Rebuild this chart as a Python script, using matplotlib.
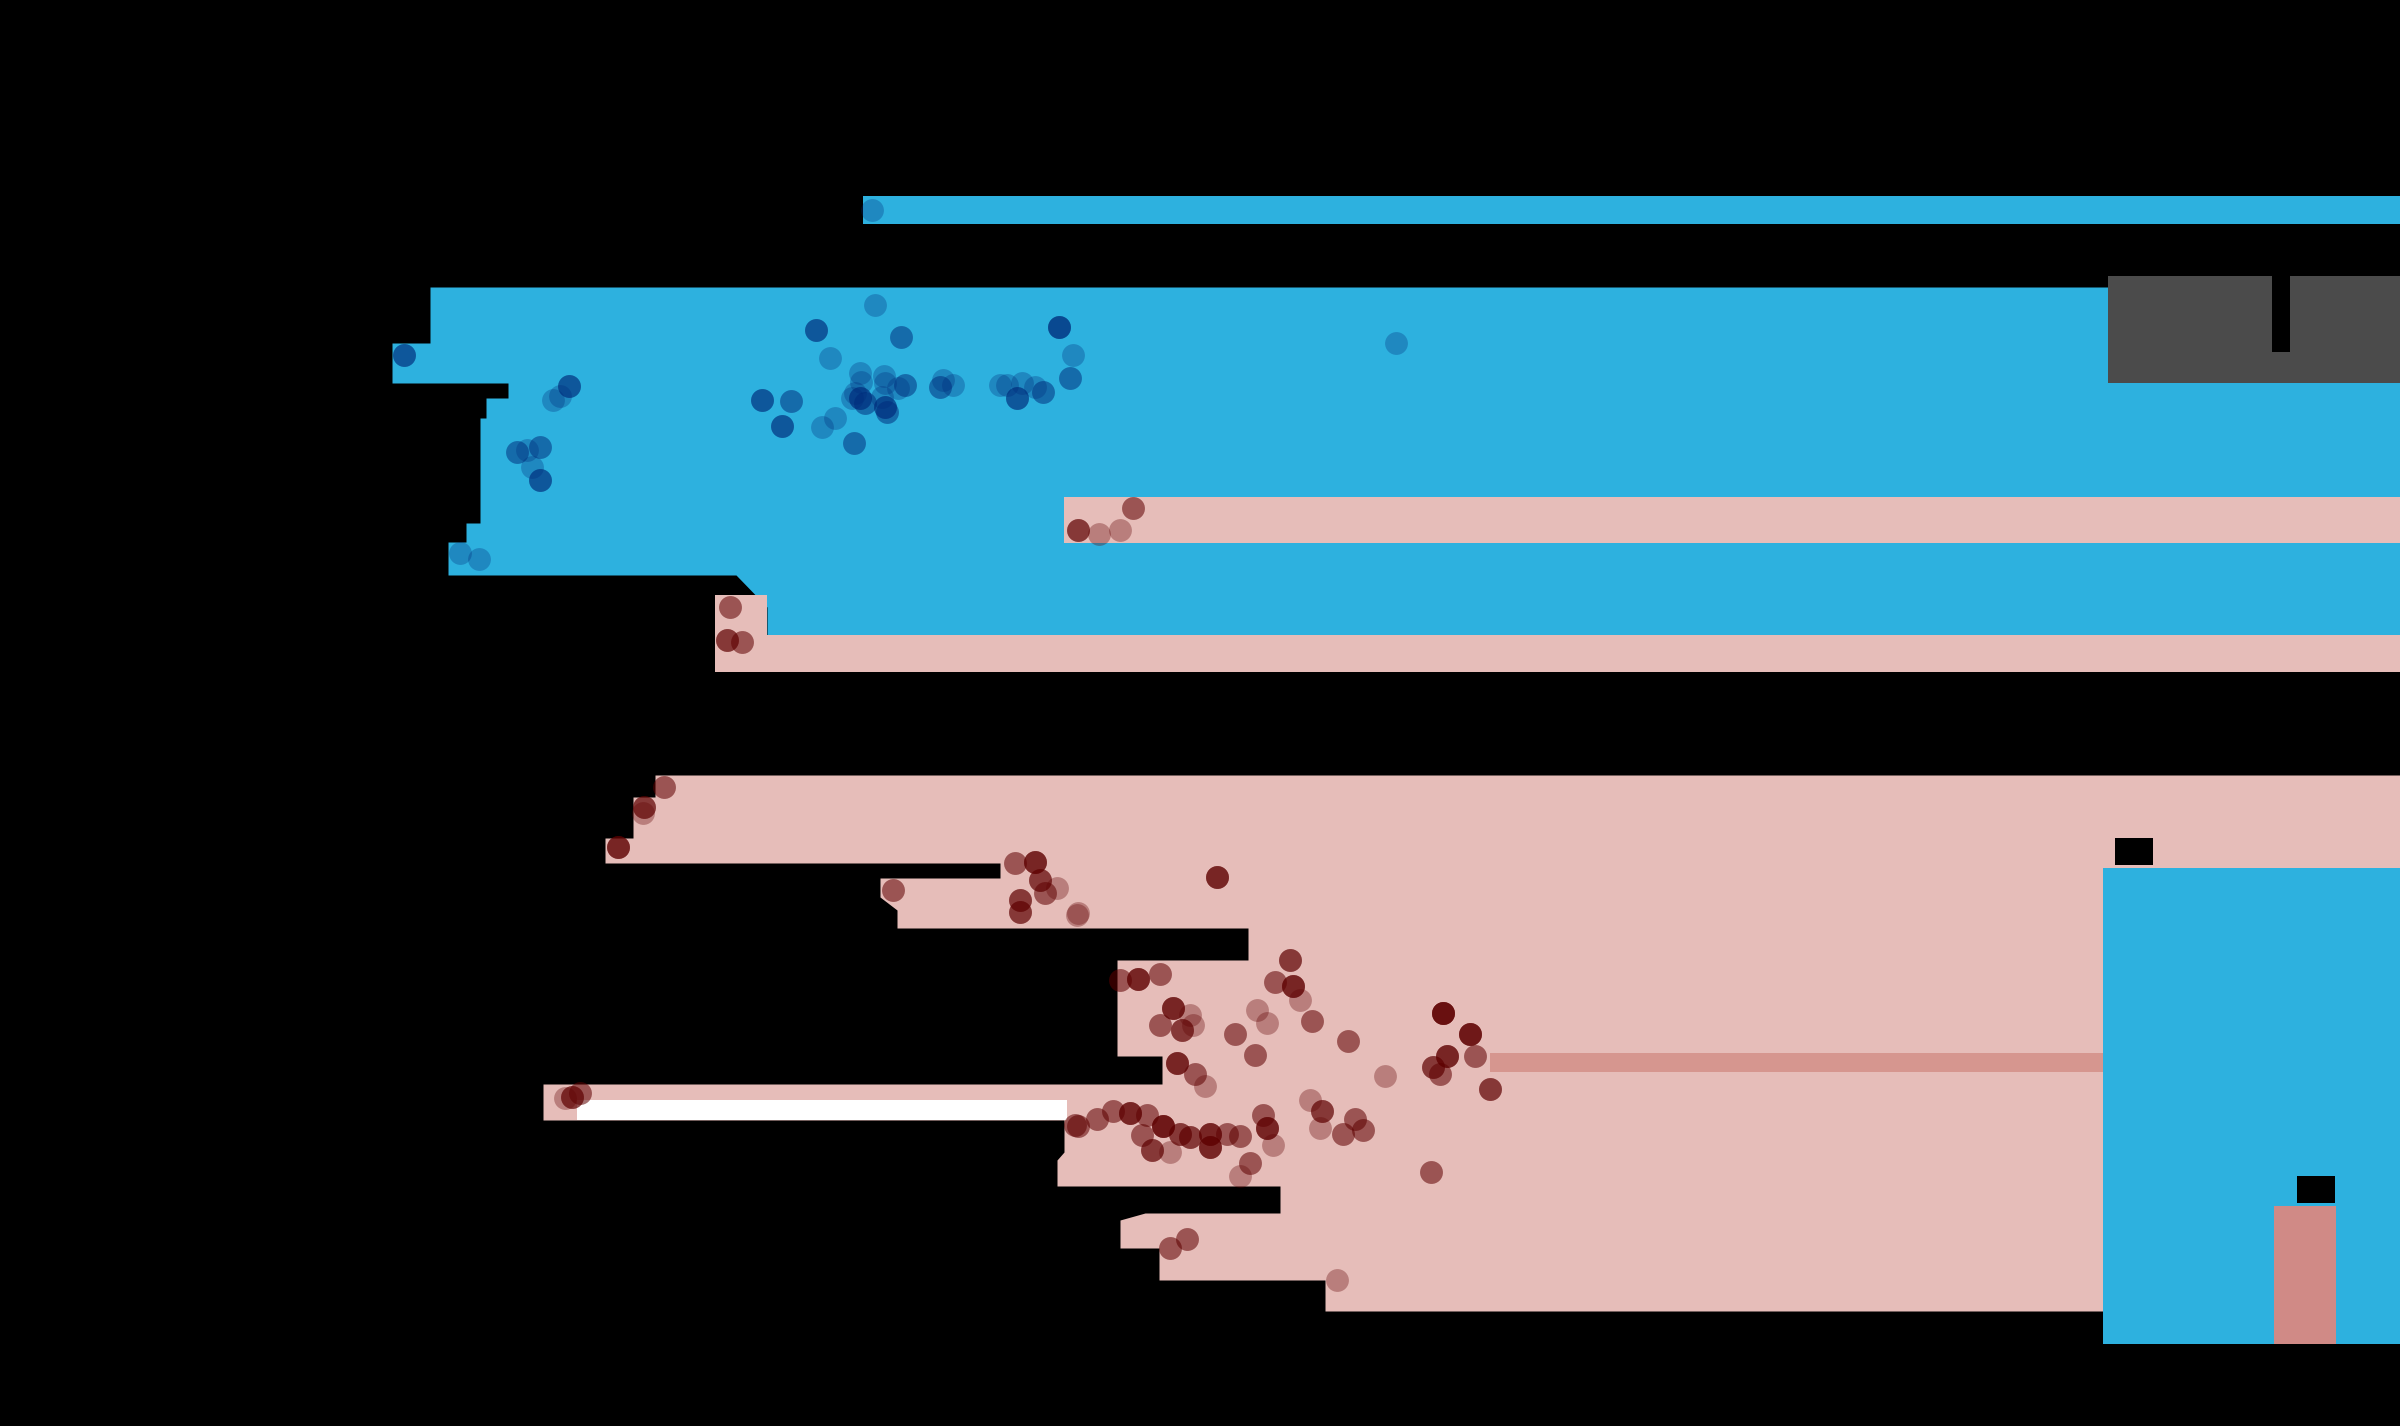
import numpy as np
import matplotlib
matplotlib.use("Agg")
import matplotlib.pyplot as plt

# map frame is 2400 x 1426 units, y grows downward
W, H = 2400, 1426

# region outlines: left edge (x) at each y, every region runs to the right border
blue_main_y = [287, 343, 343, 383, 383, 398, 398, 418, 418, 523, 523, 542, 542, 575, 575, 607, 635]
blue_main_x = [430, 430, 392, 392, 508, 508, 486, 486, 480, 480, 466, 466, 448, 448, 736, 767, 767]
blue_top_y = [196, 224]
blue_top_x = [863, 863]
pink_mid_y = [497, 543]
pink_mid_x = [1064, 1064]
pink_gap_y = [595, 635]
pink_gap_x = [715, 715]
pink_low_y = [635, 672]
pink_low_x = [715, 715]
pink_south_y = [775, 797, 797, 838, 838, 863, 863, 878, 878, 897, 910, 928, 928, 960, 960, 1056,
                1056, 1084, 1084, 1120, 1120, 1152, 1160, 1186, 1186, 1213, 1213, 1220, 1248, 1248,
                1280, 1280, 1311]
pink_south_x = [655, 655, 633, 633, 605, 605, 1000, 1000, 880, 880, 897, 897, 1248, 1248, 1117, 1117,
                1162, 1162, 543, 543, 1064, 1064, 1057, 1057, 1280, 1280, 1145, 1120, 1120, 1159,
                1159, 1325, 1325]

# points (x, y, number of records at that spot)
blue_x = [872, 404, 569, 560, 553, 517, 527, 540, 532, 540, 460, 479, 875, 816, 901, 830, 762, 791,
          782, 835, 822, 854, 860, 861, 884, 885, 860, 865, 855, 885, 887, 882, 905, 898, 852, 940,
          953, 943, 1017, 1007, 1000, 1022, 1043, 1035, 1059, 1073, 1070, 1396]
blue_y = [210, 355, 386, 396, 400, 452, 450, 447, 467, 480, 553, 559, 305, 330, 337, 358, 400, 401,
          426, 418, 427, 443, 373, 382, 376, 383, 398, 403, 393, 407, 412, 397, 385, 388, 398, 387,
          385, 380, 398, 385, 385, 383, 392, 387, 327, 355, 378, 343]
blue_n = [1, 3, 3, 1, 1, 2, 1, 2, 1, 3, 1, 1, 1, 3, 2, 1, 3, 2,
          3, 1, 1, 2, 1, 1, 1, 1, 3, 2, 1, 3, 2, 1, 2, 1, 1, 2,
          1, 1, 3, 1, 1, 1, 2, 1, 4, 1, 2, 1]

red_x = [1078, 1099, 1120, 1133, 730, 727, 742,
         664, 644, 643, 618, 893, 1015, 1035, 1040, 1045, 1057, 1020, 1020, 1078, 572, 580, 565, 1075,
         1217, 1077, 1120, 1138, 1160, 1173, 1190, 1160, 1182, 1193, 1177, 1195, 1205,
         1290, 1275, 1293, 1300, 1312, 1257, 1267, 1235, 1255, 1348, 1385,
         1443, 1470, 1475, 1447, 1433, 1440, 1490, 1431,
         1078, 1097, 1113, 1130, 1147, 1163, 1180, 1190, 1210, 1210, 1227, 1240, 1142, 1152, 1170,
         1263, 1267, 1273, 1250, 1240, 1310, 1322, 1320, 1343, 1355, 1363, 1187, 1170, 1337]
red_y = [530, 534, 530, 508, 607, 640, 642,
         787, 807, 813, 847, 890, 863, 862, 880, 893, 888, 900, 912, 913, 1097, 1093, 1098, 1125,
         877, 915, 980, 979, 974, 1008, 1015, 1025, 1030, 1025, 1063, 1074, 1086,
         960, 982, 986, 1000, 1021, 1010, 1023, 1034, 1055, 1041, 1076,
         1013, 1034, 1056, 1056, 1067, 1074, 1089, 1172,
         1126, 1119, 1111, 1113, 1115, 1126, 1134, 1137, 1134, 1147, 1134, 1136, 1135, 1150, 1152,
         1115, 1128, 1145, 1163, 1176, 1100, 1111, 1128, 1134, 1119, 1130, 1239, 1248, 1280]
red_n = [3, 1, 1, 2, 2, 3, 2,
         2, 3, 1, 4, 2, 2, 4, 3, 2, 1, 3, 3, 1, 3, 2, 1, 2,
         4, 1, 2, 4, 2, 4, 1, 2, 3, 1, 4, 2, 1,
         3, 2, 4, 1, 2, 1, 1, 2, 2, 2, 1,
         6, 5, 2, 4, 3, 2, 3, 2,
         2, 2, 2, 4, 2, 5, 3, 3, 4, 4, 2, 2, 2, 3, 1,
         2, 4, 1, 2, 1, 1, 3, 1, 2, 2, 2, 2, 2, 1]

# bar panel
bar_labels = ["38", "11"]
bar_values = [38, 11]

BLUE = "#2DB1DF"
PINK = "#E6BDB9"

fig = plt.figure(figsize=(24, 14.26), dpi=100)
fig.patch.set_facecolor("black")
ax = fig.add_axes([0, 0, 1, 1])
ax.set_facecolor("black")
ax.set_xlim(0, W)
ax.set_ylim(H, 0)
ax.axis("off")


def region(ys, xs, color, right=W, z=1):
    ax.fill_betweenx(ys, xs, right, color=color, linewidth=0, zorder=z)


region(blue_main_y, blue_main_x, BLUE)
region(blue_top_y, blue_top_x, BLUE)
region(pink_mid_y, pink_mid_x, PINK, z=2)
region(pink_gap_y, pink_gap_x, PINK, right=767, z=2)
region(pink_low_y, pink_low_x, PINK, z=2)
region(pink_south_y, pink_south_x, PINK, z=2)
region([1100, 1120], [577, 577], "white", right=1067, z=3)
region([1053, 1072], [1490, 1490], "#D6968F", right=2103, z=3)
# title block at upper right
region([276, 383], [2108, 2108], "#4B4B4B", z=3)
region([276, 352], [2272, 2272], "black", right=2290, z=4)
# bar backdrop
region([868, 1344], [2103, 2103], BLUE, z=4)

bx = np.repeat(blue_x, blue_n)
by = np.repeat(blue_y, blue_n)
rx = np.repeat(red_x, red_n)
ry = np.repeat(red_y, red_n)
ax.scatter(bx, by, s=270, color="#002a7a", alpha=0.3, linewidths=0, zorder=10)
ax.scatter(rx, ry, s=270, color="#5e0000", alpha=0.33, linewidths=0, zorder=10)

# bar chart of the two groups
bax = fig.add_axes([2048 / W, 82 / H, 343 / W, 501 / H])
bax.patch.set_alpha(0)
bax.bar([0, 1], bar_values, width=0.36, color=[BLUE, "#D08A86"], zorder=2)
bax.set_xlim(-0.5, 1.5)
bax.set_ylim(0, 40)
bax.axis("off")
for i, (v, lab) in enumerate(zip(bar_values, bar_labels)):
    bax.text(i + 0.06 * i, v + 0.4, lab, ha="center", va="bottom", fontsize=18, color="black",
             fontweight="bold", bbox=dict(facecolor="black", edgecolor="none", pad=1))

fig.savefig("out.png", dpi=100, facecolor="black")
